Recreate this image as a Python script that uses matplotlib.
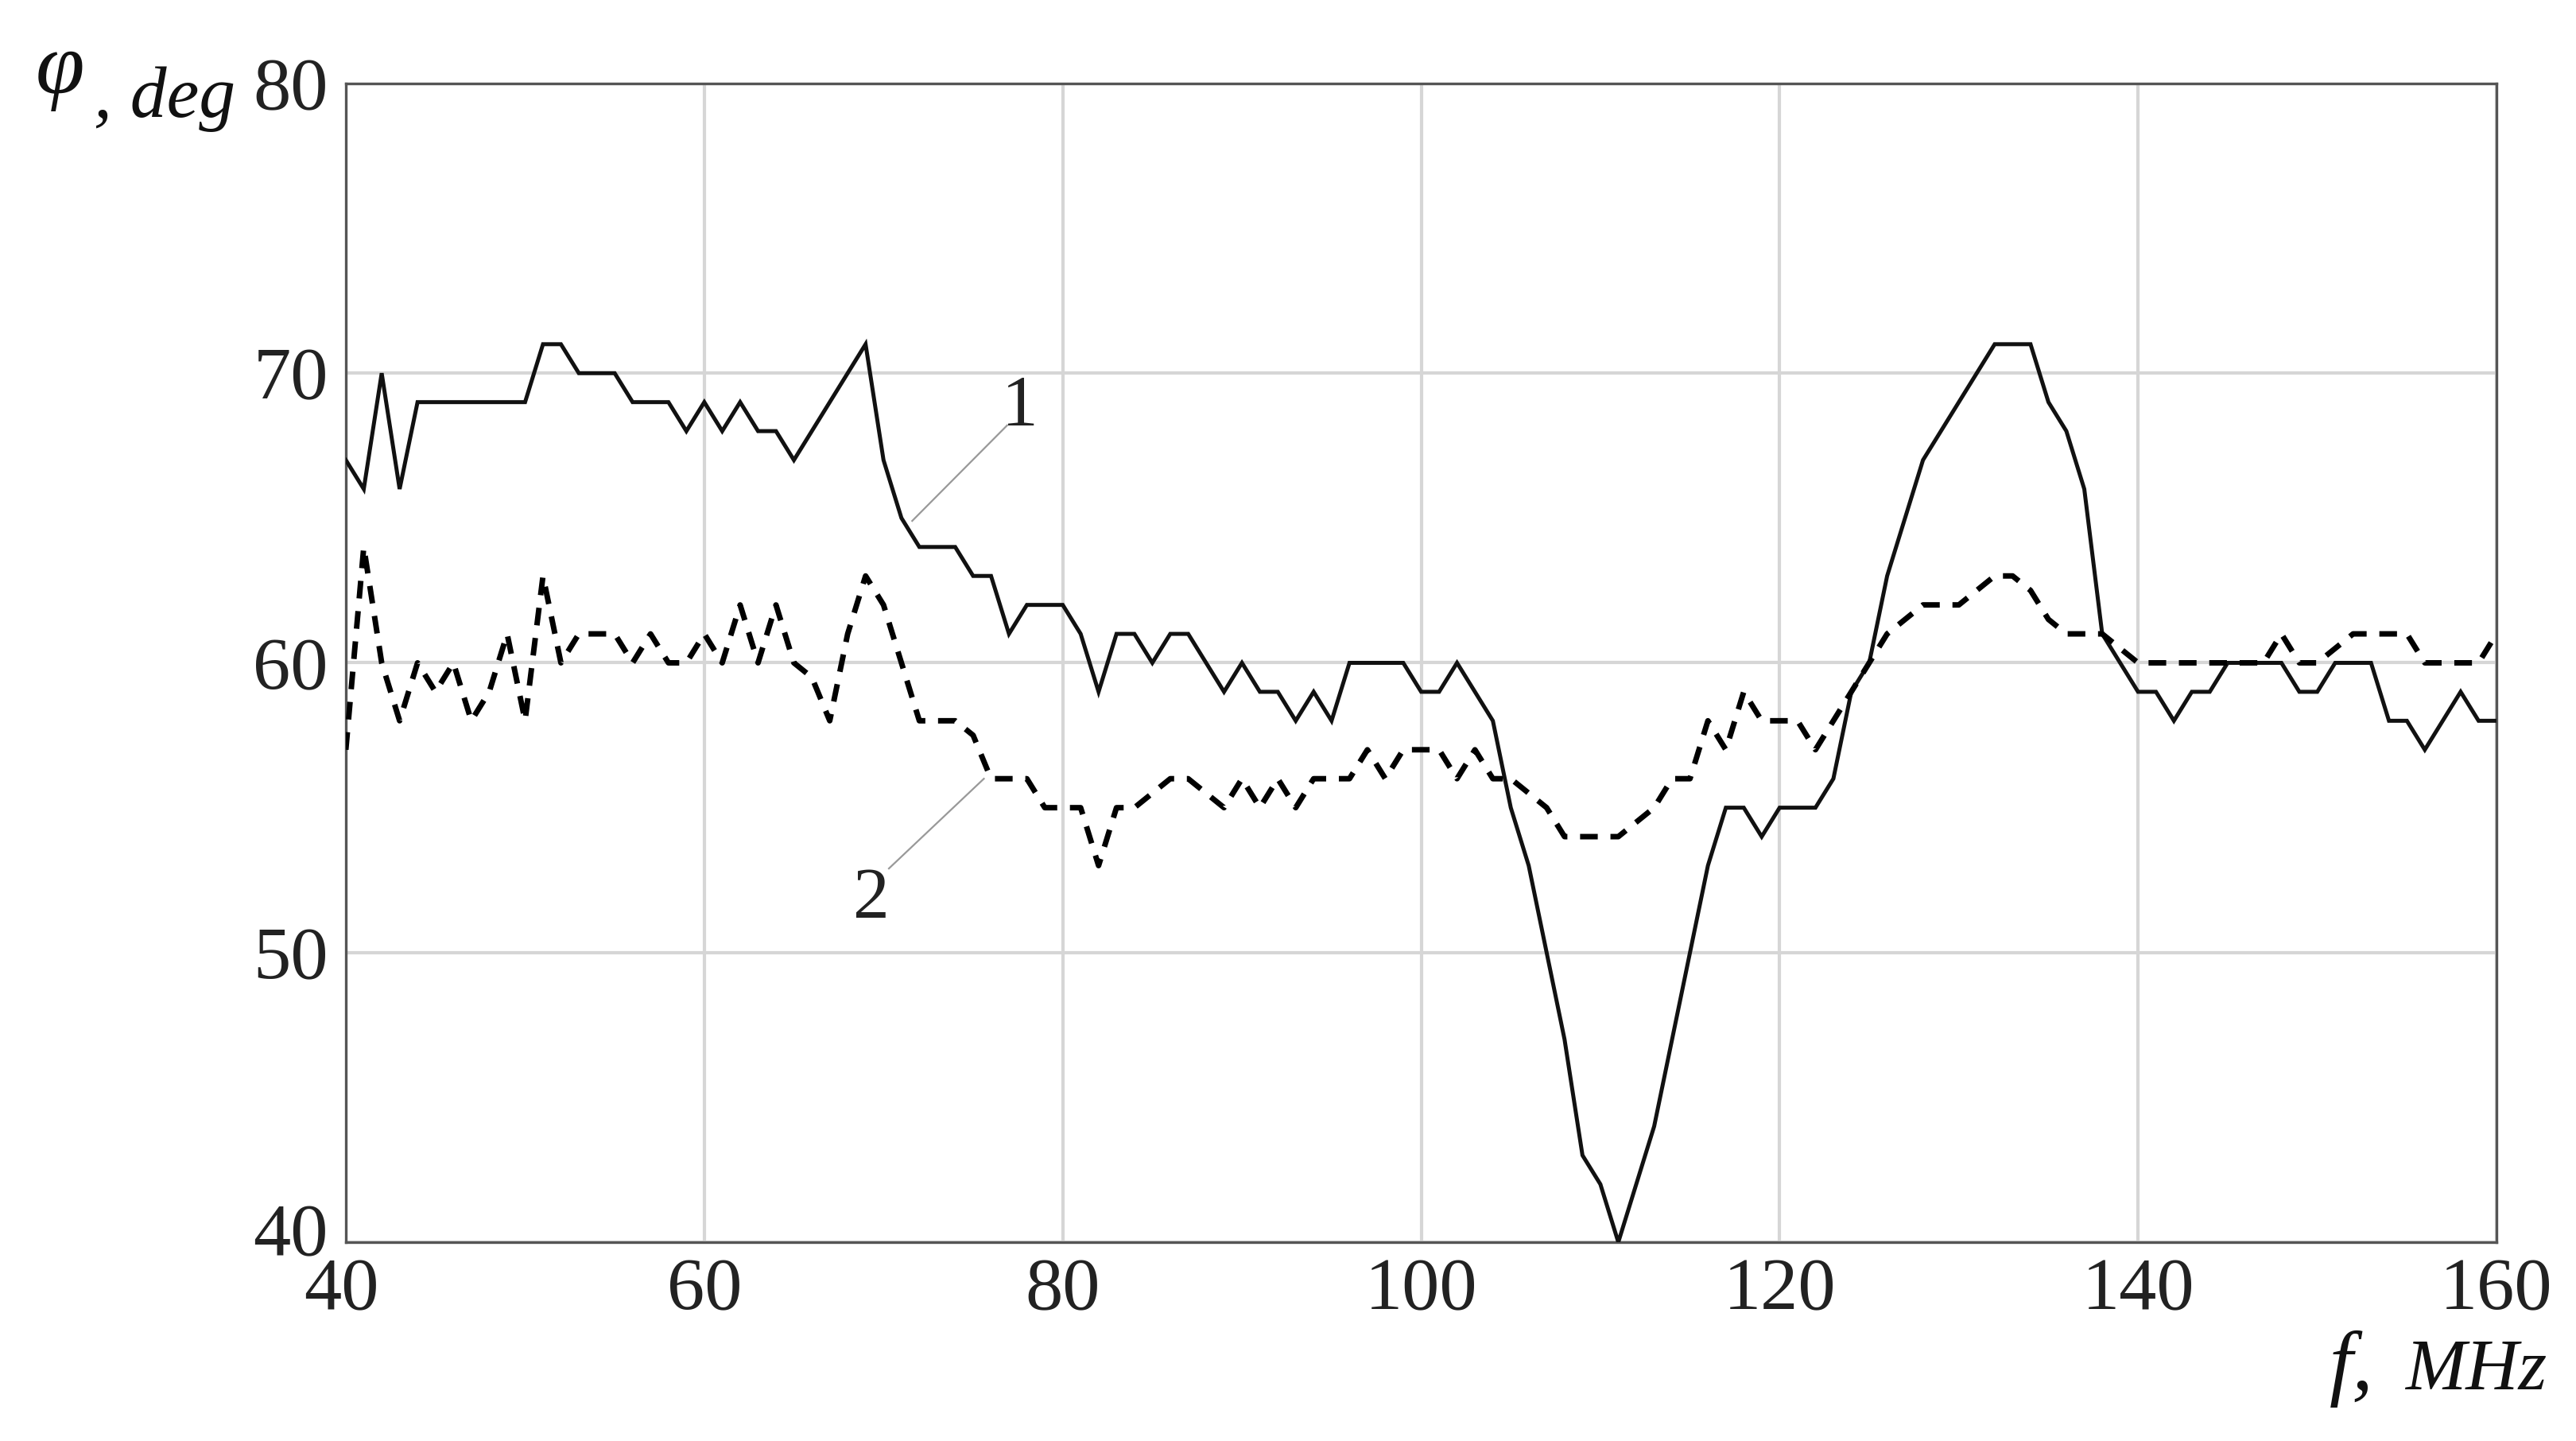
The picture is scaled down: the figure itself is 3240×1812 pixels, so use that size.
import numpy as np
import matplotlib
matplotlib.use("Agg")
import matplotlib.pyplot as plt
import matplotlib.transforms as mtransforms

# ---------------- data ----------------
freq_mhz = list(range(40, 161))

phase_curve1 = [
    67, 66, 70, 66, 69, 69, 69, 69, 69, 69,   # 40-49
    69, 71, 71, 70, 70, 70, 69, 69, 69, 68,   # 50-59
    69, 68, 69, 68, 68, 67, 68, 69, 70, 71,   # 60-69
    67, 65, 64, 64, 64, 63, 63, 61, 62, 62,   # 70-79
    62, 61, 59, 61, 61, 60, 61, 61, 60, 59,   # 80-89
    60, 59, 59, 58, 59, 58, 60, 60, 60, 60,   # 90-99
    59, 59, 60, 59, 58, 55, 53, 50, 47, 43,   # 100-109
    42, 40, 42, 44, 47, 50, 53, 55, 55, 54,   # 110-119
    55, 55, 55, 56, 59, 60, 63, 65, 67, 68,   # 120-129
    69, 70, 71, 71, 71, 69, 68, 66, 61, 60,   # 130-139
    59, 59, 58, 59, 59, 60, 60, 60, 60, 59,   # 140-149
    59, 60, 60, 60, 58, 58, 57, 58, 59, 58,   # 150-159
    58,                                       # 160
]

phase_curve2 = [
    57, 64, 60, 58, 60, 59, 60, 58, 59, 61,   # 40-49
    58, 63, 60, 61, 61, 61, 60, 61, 60, 60,   # 50-59
    61, 60, 62, 60, 62, 60, 59.5, 58, 61, 63, # 60-69
    62, 60, 58, 58, 58, 57.5, 56, 56, 56, 55, # 70-79
    55, 55, 53, 55, 55, 55.5, 56, 56, 55.5, 55,  # 80-89
    56, 55, 56, 55, 56, 56, 56, 57, 56, 57,   # 90-99
    57, 57, 56, 57, 56, 56, 55.5, 55, 54, 54, # 100-109
    54, 54, 54.5, 55, 56, 56, 58, 57, 59, 58, # 110-119
    58, 58, 57, 58, 59, 60, 61, 61.5, 62, 62, # 120-129
    62, 62.5, 63, 63, 62.5, 61.5, 61, 61, 61, 60.5,  # 130-139
    60, 60, 60, 60, 60, 60, 60, 60, 61, 60,   # 140-149
    60, 60.5, 61, 61, 61, 61, 60, 60, 60, 60, # 150-159
    61,                                       # 160
]

x_ticks = [40, 60, 80, 100, 120, 140, 160]
y_ticks = [40, 50, 60, 70, 80]
curve_labels = ["1", "2"]

# ---------------- figure ----------------
W, H = 3241, 1812
fig = plt.figure(figsize=(W / 100, H / 100), dpi=100)
ax = fig.add_axes([435 / W, 1 - 1562 / H, (3140 - 435) / W, (1562 - 105) / H])

serif = ["Liberation Serif", "DejaVu Serif"]

ax.plot(freq_mhz, phase_curve1, color="#111111", lw=3.6, solid_joinstyle="miter", zorder=3)
ax.plot(freq_mhz, phase_curve2, color="#000000", lw=5.0, linestyle=(0, (3.2, 2.3)), zorder=3)

ax.set_xlim(40, 160)
ax.set_ylim(40, 80)
ax.set_xticks(x_ticks)
ax.set_yticks(y_ticks)
ax.set_xticklabels([str(v) for v in x_ticks], fontfamily=serif, fontsize=68, color="#222222")
ax.set_yticklabels([str(v) for v in y_ticks], fontfamily=serif, fontsize=68, color="#222222")
ax.tick_params(axis="both", length=0)
ax.tick_params(axis="y", pad=16)
ax.tick_params(axis="x", pad=14)

# lift the lowest y tick label a little, as in the reference
lbl = ax.get_yticklabels()[0]
lbl.set_transform(lbl.get_transform() + mtransforms.ScaledTranslation(0, 0.16, fig.dpi_scale_trans))
xl = ax.get_xticklabels()[0]
xl.set_transform(xl.get_transform() + mtransforms.ScaledTranslation(-0.06, 0, fig.dpi_scale_trans))

ax.grid(True, color="#d6d6d6", lw=3.0, zorder=1)
ax.set_axisbelow(True)
for s in ax.spines.values():
    s.set_color("#555555")
    s.set_linewidth(2.4)

# leader lines and curve labels
ax.plot([71.6, 76.9], [64.9, 68.2], color="#999999", lw=1.6, zorder=2)
ax.plot([70.3, 75.6], [52.9, 56.0], color="#999999", lw=1.6, zorder=2)
ax.text(77.6, 68.8, curve_labels[0], fontfamily=serif, fontsize=66, ha="center", va="center", color="#222222")
ax.text(69.3, 51.8, curve_labels[1], fontfamily=serif, fontsize=66, ha="center", va="center", color="#222222")

# axis titles
fig.text(45 / W, 1 - 117 / H, "φ", fontfamily=serif, style="italic", fontsize=80,
         ha="left", va="baseline", color="#111111")
fig.text(118 / W, 1 - 147 / H, ", deg", fontfamily=serif, style="italic", fontsize=66,
         ha="left", va="baseline", color="#111111")
fig.text(2930 / W, 1 - 1747 / H, "f,", fontfamily=serif, style="italic", fontsize=76,
         ha="left", va="baseline", color="#111111")
fig.text(3025 / W, 1 - 1747 / H, "MHz", fontfamily=serif, style="italic", fontsize=66,
         ha="left", va="baseline", color="#111111")

fig.savefig("out.png", dpi=100, facecolor="white")
